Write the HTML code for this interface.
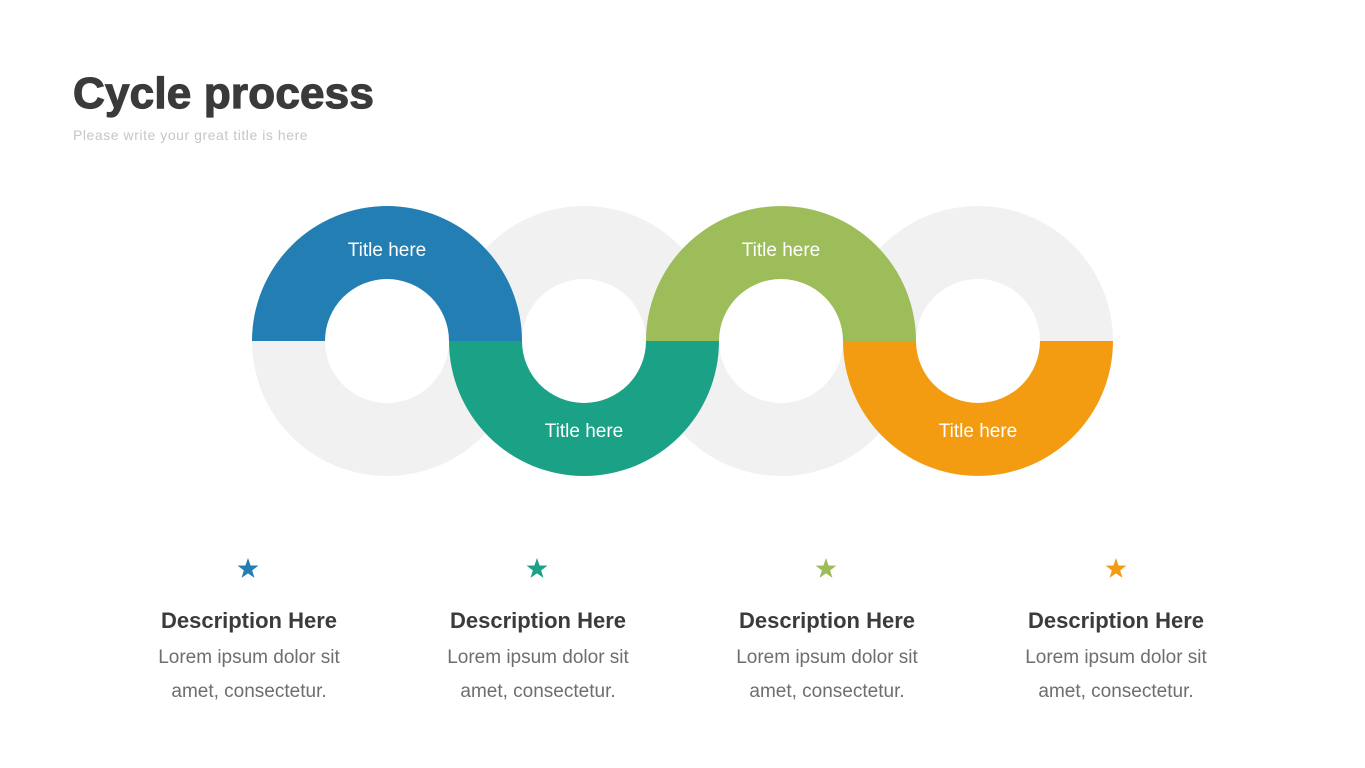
<!DOCTYPE html>
<html>
<head>
<meta charset="utf-8">
<style>
  html,body{margin:0;padding:0;background:#fff;}
  body{width:1365px;height:768px;overflow:hidden;}
  svg{display:block;}
</style>
</head>
<body>
<svg width="1365" height="768" viewBox="0 0 1365 768" xmlns="http://www.w3.org/2000/svg">
  <rect width="1365" height="768" fill="#ffffff"/>

  <!-- Title -->
  <text x="73" y="108" font-family="Liberation Sans, sans-serif" font-weight="bold" font-size="44" fill="#3a3a3a" stroke="#3a3a3a" stroke-width="1.2" letter-spacing="0.2">Cycle process</text>
  <text x="73" y="140" font-family="Liberation Sans, sans-serif" font-size="14" fill="#c6c6c6" letter-spacing="0.55">Please write your great title is here</text>

  <!-- gray rings -->
  <g fill="none" stroke="#f1f1f1" stroke-width="73">
    <circle cx="387" cy="341" r="98.5"/>
    <circle cx="584" cy="341" r="98.5"/>
    <circle cx="781" cy="341" r="98.5"/>
    <circle cx="978" cy="341" r="98.5"/>
  </g>

  <!-- colored halves -->
  <path d="M252,341 A135,135 0 0 1 522,341 L449,341 A62,62 0 0 0 325,341 Z" fill="#237eb3"/>
  <path d="M449,341 A135,135 0 0 0 719,341 L646,341 A62,62 0 0 1 522,341 Z" fill="#1aa186"/>
  <path d="M646,341 A135,135 0 0 1 916,341 L843,341 A62,62 0 0 0 719,341 Z" fill="#9cbd59"/>
  <path d="M843,341 A135,135 0 0 0 1113,341 L1040,341 A62,62 0 0 1 916,341 Z" fill="#f39c12"/>

  <!-- ring labels -->
  <g font-family="Liberation Sans, sans-serif" font-size="19" fill="#ffffff" text-anchor="middle" letter-spacing="0">
    <text x="387" y="256">Title here</text>
    <text x="584" y="437">Title here</text>
    <text x="781" y="256">Title here</text>
    <text x="978" y="437">Title here</text>
  </g>

  <!-- stars -->
  <g>
    <path transform="translate(248,569)" fill="#237eb3" d="M0,-11 L2.59,-3.56 L10.46,-3.4 L4.18,1.36 L6.47,8.9 L0,4.4 L-6.47,8.9 L-4.18,1.36 L-10.46,-3.4 L-2.59,-3.56 Z"/>
    <path transform="translate(537,569)" fill="#1aa186" d="M0,-11 L2.59,-3.56 L10.46,-3.4 L4.18,1.36 L6.47,8.9 L0,4.4 L-6.47,8.9 L-4.18,1.36 L-10.46,-3.4 L-2.59,-3.56 Z"/>
    <path transform="translate(826,569)" fill="#9cbd59" d="M0,-11 L2.59,-3.56 L10.46,-3.4 L4.18,1.36 L6.47,8.9 L0,4.4 L-6.47,8.9 L-4.18,1.36 L-10.46,-3.4 L-2.59,-3.56 Z"/>
    <path transform="translate(1116,569)" fill="#f39c12" d="M0,-11 L2.59,-3.56 L10.46,-3.4 L4.18,1.36 L6.47,8.9 L0,4.4 L-6.47,8.9 L-4.18,1.36 L-10.46,-3.4 L-2.59,-3.56 Z"/>
  </g>

  <!-- descriptions -->
  <g font-family="Liberation Sans, sans-serif" text-anchor="middle">
    <g font-size="22" font-weight="bold" fill="#3b3b3b">
      <text x="249" y="628">Description Here</text>
      <text x="538" y="628">Description Here</text>
      <text x="827" y="628">Description Here</text>
      <text x="1116" y="628">Description Here</text>
    </g>
    <g font-size="19" fill="#6e6e6e">
      <text x="249" y="663">Lorem ipsum dolor sit</text>
      <text x="249" y="697">amet, consectetur.</text>
      <text x="538" y="663">Lorem ipsum dolor sit</text>
      <text x="538" y="697">amet, consectetur.</text>
      <text x="827" y="663">Lorem ipsum dolor sit</text>
      <text x="827" y="697">amet, consectetur.</text>
      <text x="1116" y="663">Lorem ipsum dolor sit</text>
      <text x="1116" y="697">amet, consectetur.</text>
    </g>
  </g>
</svg>
</body>
</html>
